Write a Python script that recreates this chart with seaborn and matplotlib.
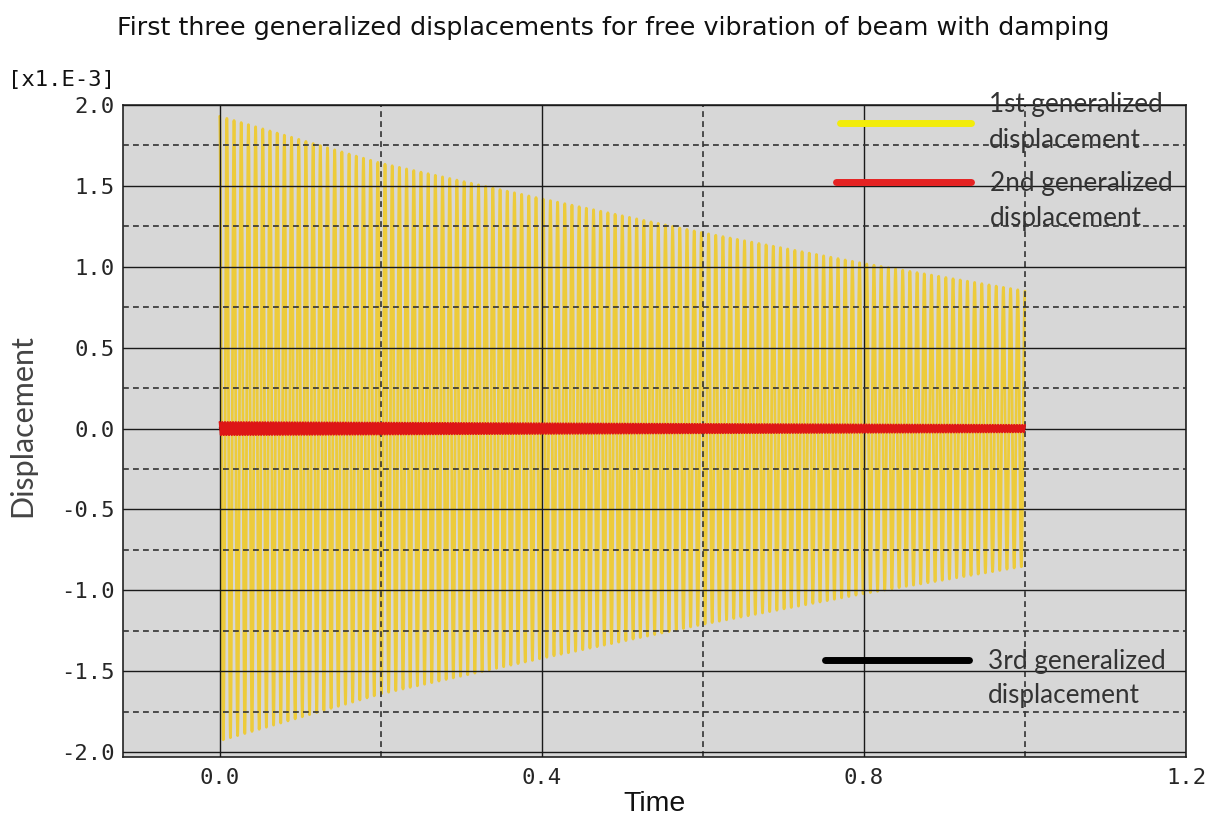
import numpy as np
import pandas as pd
import matplotlib
matplotlib.use("Agg")
import matplotlib.pyplot as plt
from matplotlib.lines import Line2D
import seaborn as sns

# ---------------- data (values in units of 1e-3) ----------------
title = "First three generalized displacements for free vibration of beam with damping"
x_major_ticks = [0.0, 0.4, 0.8, 1.2]
x_major_labels = ["0.0", "0.4", "0.8", "1.2"]
x_minor_ticks = [0.2, 0.6, 1.0]
y_major_ticks = [-2.0, -1.5, -1.0, -0.5, 0.0, 0.5, 1.0, 1.5, 2.0]
y_major_labels = ["-2.0", "-1.5", "-1.0", "-0.5", "0.0", "0.5", "1.0", "1.5", "2.0"]
y_minor_ticks = [-1.75, -1.25, -0.75, -0.25, 0.25, 0.75, 1.25, 1.75]

# envelope readings of each generalized displacement at these times
env_time = [0.0, 0.2, 0.4, 0.6, 0.8, 1.0]
env_mode1 = [1.93, 1.64, 1.42, 1.21, 1.02, 0.85]
env_mode2 = [0.040, 0.036, 0.032, 0.028, 0.025, 0.022]
env_mode3 = [0.008, 0.007, 0.006, 0.005, 0.004, 0.004]
cycles_mode1 = 112     # oscillation cycles counted over 0..1 s
cycles_mode2 = 300
cycles_mode3 = 600

labels = ["1st generalized\ndisplacement", "2nd generalized\ndisplacement",
          "3rd generalized\ndisplacement"]

# ---------------- build series ----------------
t = np.linspace(0.0, 1.0, 24001)
def series(env, cyc):
    return np.interp(t, env_time, env) * np.cos(2 * np.pi * cyc * t)

df1 = pd.DataFrame({"Time": t, "Displacement": series(env_mode1, cycles_mode1)})
df2 = pd.DataFrame({"Time": t, "Displacement": series(env_mode2, cycles_mode2)})
df3 = pd.DataFrame({"Time": t, "Displacement": series(env_mode3, cycles_mode3)})

# ---------------- styling ----------------
sns.set_style("white")
plt.rcParams["font.family"] = ["DejaVu Sans"]

W, H = 1217, 817
fig = plt.figure(figsize=(W / 100, H / 100), dpi=100)
ax = fig.add_axes([123 / W, 1 - 757 / H, 1063 / W, 652 / H])
ax.set_facecolor("#D7D7D7")

col1 = "#EDCB3A"
col2 = "#DD1616"
col3 = "#000000"

sns.lineplot(data=df1, x="Time", y="Displacement", ax=ax, color=col1,
             lw=2.0, estimator=None, sort=False, zorder=2)
sns.lineplot(data=df3, x="Time", y="Displacement", ax=ax, color=col3,
             lw=1.2, estimator=None, sort=False, zorder=3)
sns.lineplot(data=df2, x="Time", y="Displacement", ax=ax, color=col2,
             lw=1.6, estimator=None, sort=False, zorder=3.2)

ax.set_xlim(-0.12, 1.2)
ax.set_ylim(-2.03, 2.0)

ax.set_xticks(x_major_ticks)
ax.set_xticklabels(x_major_labels)
ax.set_xticks(x_minor_ticks, minor=True)
ax.set_yticks(y_major_ticks)
ax.set_yticklabels(y_major_labels)
ax.set_yticks(y_minor_ticks, minor=True)

for lab in ax.get_xticklabels() + ax.get_yticklabels():
    lab.set_fontfamily("DejaVu Sans Mono")
    lab.set_fontsize(16)
ax.tick_params(axis="both", which="major", direction="in", length=8, width=1.2,
               color="#111111", pad=6)
ax.tick_params(axis="both", which="minor", direction="in", length=6, width=1.2,
               color="#333333")
ax.tick_params(axis="x", which="major", pad=8)

ax.set_axisbelow(False)
ax.grid(which="major", color="#1a1a1a", lw=1.0, ls="-")
ax.grid(which="minor", color="#333333", lw=1.2, ls=(0, (3.5, 2.5)))
for s in ax.spines.values():
    s.set_color("#222222")
    s.set_linewidth(1.2)

ax.set_xlabel("Time", fontfamily="Liberation Sans", fontsize=20.5, color="#111111",
              labelpad=2)
ax.set_ylabel("Displacement", fontfamily="Lato", fontsize=22, color="#444444")
ax.yaxis.set_label_coords(-0.0818, 0.5077)

ax.text(-0.0075, 1.029, "[x1.E-3]", transform=ax.transAxes, ha="right",
        va="baseline", fontfamily="DejaVu Sans Mono", fontsize=16, color="#111111")

fig.suptitle(title, x=0.504, y=0.981, va="top", fontsize=18.3, color="#111111")

# ---------------- legends ----------------
leg_font = {"family": "Lato", "size": 18.8}
legcommon = dict(frameon=False, borderpad=0, borderaxespad=0, handletextpad=0.72,
                 prop=leg_font, labelcolor="#333333")

l1 = ax.legend(handles=[Line2D([], [], color="#F2EC0A", lw=5, solid_capstyle="round")],
               labels=[labels[0]], loc="center left", bbox_to_anchor=(0.6745, 0.973),
               handlelength=5.0, **legcommon)
for tx in l1.get_texts():
    tx.set_linespacing(1.55)
ax.add_artist(l1)

first2, second2 = labels[1].split("\n")
l2 = ax.legend(handles=[Line2D([], [], color="#E52222", lw=5, solid_capstyle="round"),
                        Line2D([], [], color="none")],
               labels=[first2, second2], loc="center left",
               bbox_to_anchor=(0.671, 0.853), handlelength=5.15,
               labelspacing=0.38, **legcommon)
ax.add_artist(l2)

first3, second3 = labels[2].split("\n")
l3 = ax.legend(handles=[Line2D([], [], color="#000000", lw=5, solid_capstyle="round"),
                        Line2D([], [], color="none")],
               labels=[first3, second3], loc="center left",
               bbox_to_anchor=(0.660, 0.120), handlelength=5.55,
               labelspacing=0.33, **legcommon)

fig.savefig("out.png", dpi=100)
